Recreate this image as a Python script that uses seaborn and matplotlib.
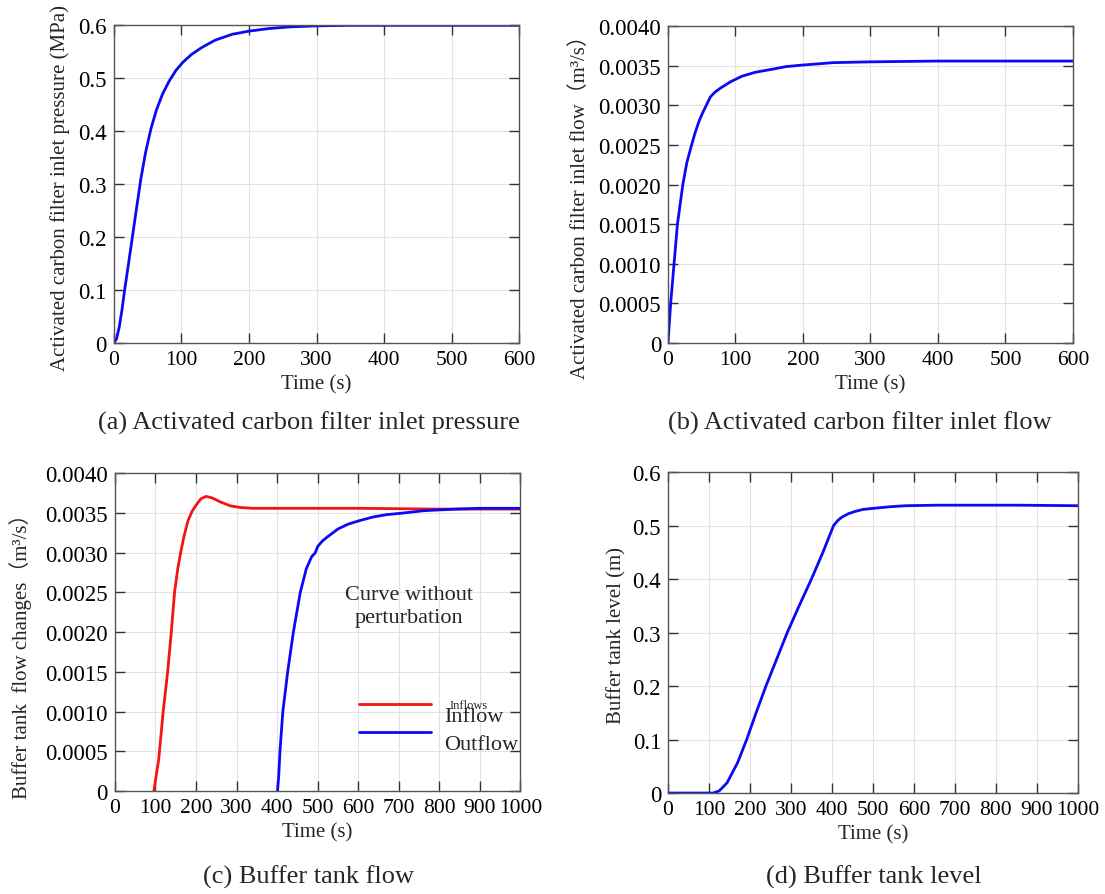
import numpy as np
import pandas as pd
import matplotlib
matplotlib.use('Agg')
import matplotlib.pyplot as plt
import seaborn as sns

# (a) activated carbon filter inlet pressure
t_a = [0, 4, 8, 12, 16, 22, 28, 34, 40, 47, 55, 63, 72, 82, 92, 102, 115, 130,
       150, 175, 200, 230, 260, 300, 350, 400, 500, 600]
p_a = [0, 0.008, 0.03, 0.062, 0.1, 0.152, 0.205, 0.258, 0.31, 0.36, 0.405,
       0.44, 0.47, 0.495, 0.515, 0.53, 0.545, 0.558, 0.572, 0.583, 0.589,
       0.594, 0.597, 0.599, 0.6, 0.6, 0.6, 0.6]

# (b) activated carbon filter inlet flow
t_b = [0, 4, 9, 14, 22, 28, 35, 40, 46, 51, 55, 59, 63, 70, 78, 93, 110, 130,
       150, 175, 200, 245, 300, 400, 500, 600]
q_b = [0, 0.0005, 0.001, 0.0015, 0.002, 0.00228, 0.0025, 0.00265, 0.0028,
       0.0029, 0.00297, 0.00304, 0.00311, 0.00317, 0.00322, 0.0033, 0.00337,
       0.00342, 0.00345, 0.00349, 0.00351, 0.00354, 0.00355, 0.00356, 0.00356,
       0.00356]

# (c) buffer tank inflow / outflow
t_in = [96, 102, 108, 119, 130, 139, 147, 155, 162, 170, 180, 190, 200, 212,
        225, 240, 260, 285, 310, 340, 400, 600, 800, 1000]
q_in = [0, 0.0002, 0.0004, 0.001, 0.0015, 0.002, 0.0025, 0.0028, 0.003,
        0.0032, 0.0034, 0.00352, 0.0036, 0.00368, 0.00371, 0.00369, 0.00364,
        0.00359, 0.00357, 0.00356, 0.00356, 0.00356, 0.00355, 0.00355]
t_out = [401, 404, 407, 414, 426, 440, 457, 472, 485, 494, 500, 512, 524, 550,
         575, 600, 636, 670, 710, 762, 840, 900, 1000]
q_out = [0, 0.0002, 0.0005, 0.001, 0.0015, 0.002, 0.0025, 0.0028, 0.00295,
         0.003, 0.00308, 0.00315, 0.0032, 0.0033, 0.00336, 0.0034, 0.00345,
         0.00348, 0.0035, 0.00353, 0.00355, 0.00356, 0.00356]

# (d) buffer tank level
t_d = [0, 110, 125, 144, 170, 192, 215, 239, 265, 291, 320, 350, 378, 404, 415,
       425, 440, 455, 475, 500, 540, 580, 660, 750, 850, 1000]
h_d = [0, 0, 0.004, 0.019, 0.057, 0.1, 0.15, 0.2, 0.25, 0.3, 0.35, 0.4, 0.45,
       0.5, 0.51, 0.516, 0.522, 0.526, 0.53, 0.532, 0.535, 0.537, 0.538, 0.538,
       0.538, 0.537]

ticks_600 = [0, 100, 200, 300, 400, 500, 600]
ticks_1000 = [0, 100, 200, 300, 400, 500, 600, 700, 800, 900, 1000]
ticks_p = [0, 0.1, 0.2, 0.3, 0.4, 0.5, 0.6]
labels_p = ['0', '0.1', '0.2', '0.3', '0.4', '0.5', '0.6']
ticks_q = [0, 0.0005, 0.001, 0.0015, 0.002, 0.0025, 0.003, 0.0035, 0.004]
labels_q = ['0', '0.0005', '0.0010', '0.0015', '0.0020', '0.0025', '0.0030',
            '0.0035', '0.0040']

captions = ['(a) Activated carbon filter inlet pressure',
            '(b) Activated carbon filter inlet flow',
            '(c) Buffer tank flow',
            '(d) Buffer tank level']

sns.set_theme(style='whitegrid')
plt.rcParams['font.family'] = ['Liberation Serif', 'Noto Sans CJK SC']
plt.rcParams['axes.unicode_minus'] = False

fig = plt.figure(figsize=(11.05, 8.95), dpi=100)
ax_a = fig.add_axes([0.103, 0.6156, 0.367, 0.355])
ax_b = fig.add_axes([0.6045, 0.6156, 0.3665, 0.354])
ax_c = fig.add_axes([0.104, 0.115, 0.367, 0.355])
ax_d = fig.add_axes([0.6045, 0.1128, 0.371, 0.3587])

blue = '#0a0af5'
red = '#f51414'
lw = 2.0

sns.lineplot(x=t_a, y=p_a, ax=ax_a, color=blue, linewidth=lw)
sns.lineplot(x=t_b, y=q_b, ax=ax_b, color=blue, linewidth=lw)
sns.lineplot(x=t_in, y=q_in, ax=ax_c, color=red, linewidth=lw, label='Inflow')
sns.lineplot(x=t_out, y=q_out, ax=ax_c, color=blue, linewidth=lw, label='Outflow')
sns.lineplot(x=t_d, y=h_d, ax=ax_d, color=blue, linewidth=lw)


def style(ax, xticks, yticks, ylabels, ylabel, lab_x, lab_y):
    ax.set_xlim(xticks[0], xticks[-1])
    ax.set_ylim(yticks[0], yticks[-1])
    ax.set_xticks(xticks)
    ax.set_xticklabels([str(v) for v in xticks])
    ax.set_yticks(yticks)
    ax.set_yticklabels(ylabels)
    ax.tick_params(direction='in', length=7, width=1, colors='#333333',
                   labelcolor='black', top=True, right=True,
                   bottom=True, left=True, pad=5)
    ax.tick_params(axis='y', labelsize=16.5)
    ax.tick_params(axis='x', labelsize=15.5)
    ax.grid(True, color='#e3e3e3', linewidth=0.8)
    for s in ax.spines.values():
        s.set_color('#555555')
        s.set_linewidth(1.0)
    ax.set_facecolor('white')
    ax.set_xlabel('Time (s)', fontsize=15, labelpad=4)
    ax.set_ylabel(ylabel, fontsize=15)
    ax.yaxis.set_label_coords(lab_x, lab_y)


style(ax_a, ticks_600, ticks_p, labels_p,
      'Activated carbon filter inlet pressure (MPa)', -0.108, 0.49)
style(ax_b, ticks_600, ticks_q, labels_q,
      'Activated carbon filter inlet flow（m³/s）', -0.193, 0.448)
style(ax_c, ticks_1000, ticks_q, labels_q,
      'Buffer tank  flow changes（m³/s）', -0.204, 0.443)
style(ax_d, ticks_1000, ticks_p, labels_p,
      'Buffer tank level (m)', -0.102, 0.495)

ax_c.text(724, 0.00233, 'Curve without\nperturbation', fontsize=16,
          ha='center', va='center', linespacing=1.35)
ax_c.text(0.872, 0.27, 'Inflows', transform=ax_c.transAxes, fontsize=9,
          ha='center', va='center')
leg = ax_c.legend(loc='center left', bbox_to_anchor=(0.603, 0.222), frameon=False,
                  fontsize=16, handlelength=3.2, handletextpad=0.6,
                  labelspacing=0.35, borderpad=0, borderaxespad=0)
# labels in the reference sit a little below their line samples
for txt in leg.get_texts():
    txt.set_y(-9)

fig.text(0.2796, 1 - 423 / 895, captions[0], fontsize=19, ha='center', va='center')
fig.text(0.7783, 1 - 423 / 895, captions[1], fontsize=19, ha='center', va='center')
fig.text(0.2796, 1 - 877 / 895, captions[2], fontsize=19, ha='center', va='center')
fig.text(0.7909, 1 - 877 / 895, captions[3], fontsize=19, ha='center', va='center')

fig.savefig('out.png', dpi=100, facecolor='white')
